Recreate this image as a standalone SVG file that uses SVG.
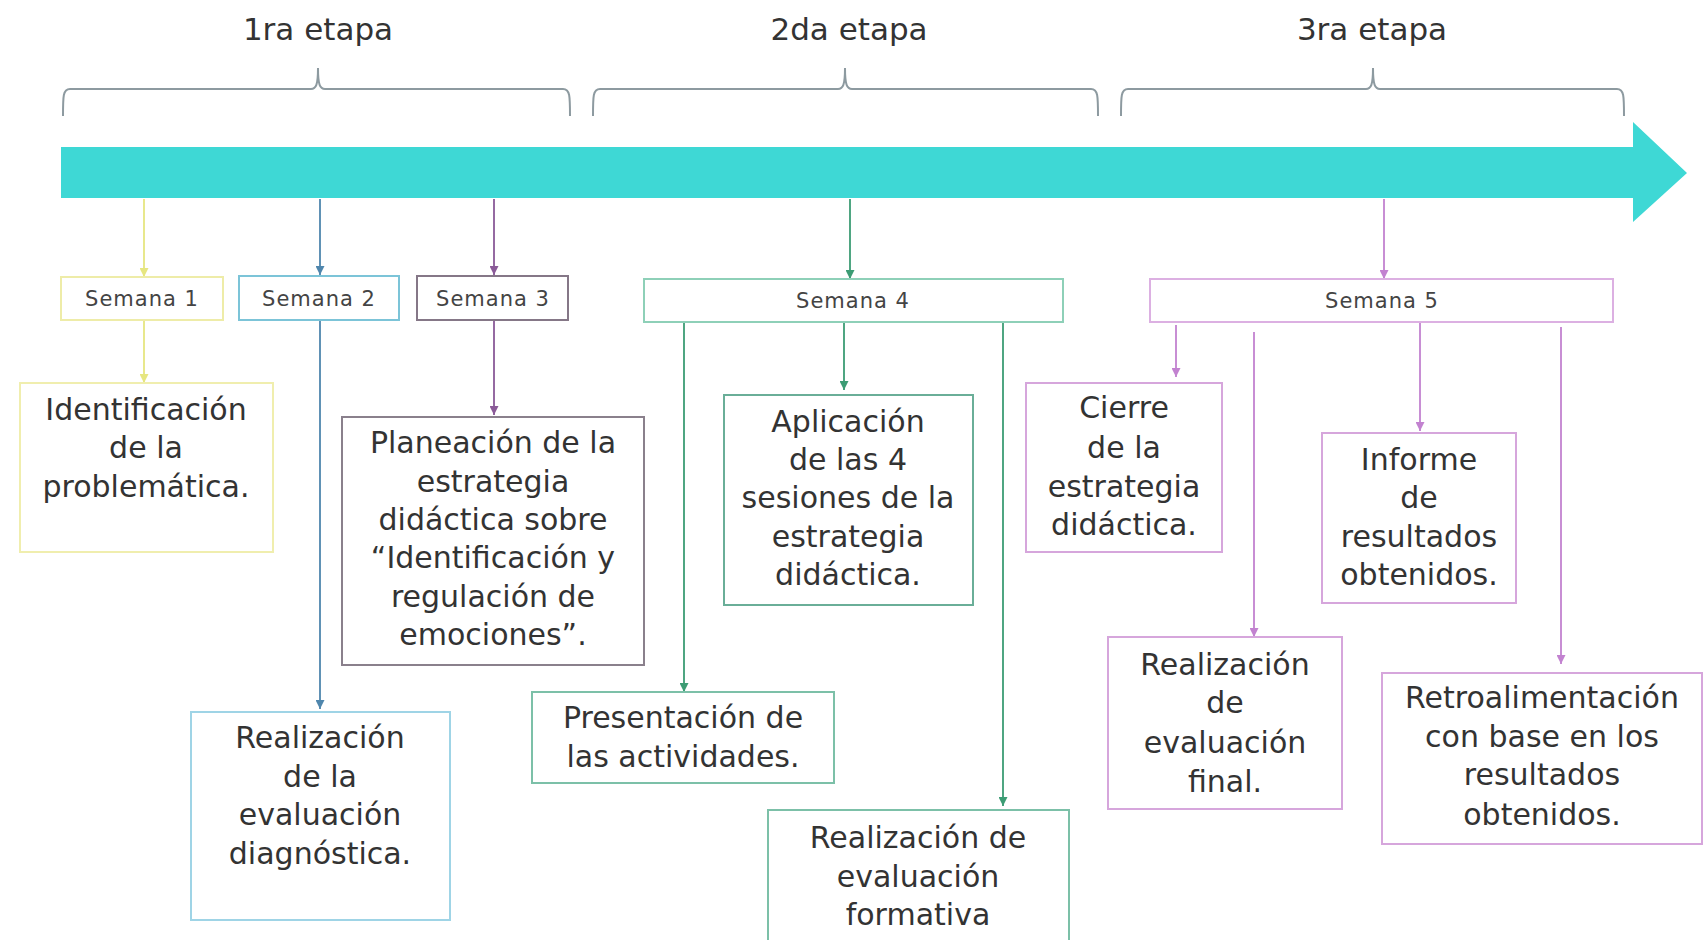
<svg xmlns="http://www.w3.org/2000/svg" width="1704" height="940" viewBox="0 0 1704 940">
<style>
text{font-family:"DejaVu Sans","Liberation Sans",sans-serif;fill:#333;text-anchor:middle}
.big{font-size:30px}
.sem{font-size:21px;letter-spacing:1px;fill:#444}
.eta{font-size:31px;fill:#333}
.br{fill:none;stroke:#8d9aa0;stroke-width:2}
.c{fill:none;stroke-width:1.8}
.box{fill:#fff;stroke-width:2}
</style>
<defs>
<marker id="mY" viewBox="0 0 10 10" refX="10" refY="5" markerWidth="9" markerHeight="9" markerUnits="userSpaceOnUse" orient="auto"><path d="M0,0 L10,5 L0,10 z" fill="#e6e680"/></marker>
<marker id="mB" viewBox="0 0 10 10" refX="10" refY="5" markerWidth="9" markerHeight="9" markerUnits="userSpaceOnUse" orient="auto"><path d="M0,0 L10,5 L0,10 z" fill="#4f86ad"/></marker>
<marker id="mP" viewBox="0 0 10 10" refX="10" refY="5" markerWidth="9" markerHeight="9" markerUnits="userSpaceOnUse" orient="auto"><path d="M0,0 L10,5 L0,10 z" fill="#8a5a98"/></marker>
<marker id="mG" viewBox="0 0 10 10" refX="10" refY="5" markerWidth="9" markerHeight="9" markerUnits="userSpaceOnUse" orient="auto"><path d="M0,0 L10,5 L0,10 z" fill="#3c9c74"/></marker>
<marker id="mK" viewBox="0 0 10 10" refX="10" refY="5" markerWidth="9" markerHeight="9" markerUnits="userSpaceOnUse" orient="auto"><path d="M0,0 L10,5 L0,10 z" fill="#c282d0"/></marker>
</defs>
<rect width="1704" height="940" fill="#fff"/>

<g id="timeline">
<path d="M61,147 H1633 V122 L1687,173 L1633,222 V198 H61 Z" fill="#3ed8d5"/>
</g>

<g id="stages">
<path class="br" d="M63,116 C63,96 63,89 70,89 H311 C316,89 318,85 318,68 C318,85 320,89 325,89 H563 C570,89 570,96 570,116"/>
<text class="eta" x="318" y="40">1ra etapa</text>
<path class="br" d="M593,116 C593,96 593,89 600,89 H838 C843,89 845,85 845,68 C845,85 847,89 852,89 H1091 C1098,89 1098,96 1098,116"/>
<text class="eta" x="849" y="40">2da etapa</text>
<path class="br" d="M1121,116 C1121,96 1121,89 1128,89 H1366 C1371,89 1373,85 1373,68 C1373,85 1375,89 1380,89 H1617 C1624,89 1624,96 1624,116"/>
<text class="eta" x="1372" y="40">3ra etapa</text>
</g>

<g id="connectors">
<line class="c" stroke="#e6e680" x1="144" y1="199" x2="144" y2="277" marker-end="url(#mY)"/>
<line class="c" stroke="#e6e680" x1="144" y1="320" x2="144" y2="383" marker-end="url(#mY)"/>
<line class="c" stroke="#4f86ad" x1="320" y1="199" x2="320" y2="275" marker-end="url(#mB)"/>
<line class="c" stroke="#4f86ad" x1="320" y1="320" x2="320" y2="709" marker-end="url(#mB)"/>
<line class="c" stroke="#8a5a98" x1="494" y1="199" x2="494" y2="275" marker-end="url(#mP)"/>
<line class="c" stroke="#8a5a98" x1="494" y1="320" x2="494" y2="415" marker-end="url(#mP)"/>
<line class="c" stroke="#3c9c74" x1="850" y1="199" x2="850" y2="279" marker-end="url(#mG)"/>
<line class="c" stroke="#3c9c74" x1="684" y1="322" x2="684" y2="692" marker-end="url(#mG)"/>
<line class="c" stroke="#3c9c74" x1="844" y1="322" x2="844" y2="390" marker-end="url(#mG)"/>
<line class="c" stroke="#3c9c74" x1="1003" y1="322" x2="1003" y2="806" marker-end="url(#mG)"/>
<line class="c" stroke="#c282d0" x1="1384" y1="199" x2="1384" y2="279" marker-end="url(#mK)"/>
<line class="c" stroke="#c282d0" x1="1176" y1="325" x2="1176" y2="377" marker-end="url(#mK)"/>
<line class="c" stroke="#c282d0" x1="1254" y1="332" x2="1254" y2="637" marker-end="url(#mK)"/>
<line class="c" stroke="#c282d0" x1="1420" y1="322" x2="1420" y2="431" marker-end="url(#mK)"/>
<line class="c" stroke="#c282d0" x1="1561" y1="327" x2="1561" y2="664" marker-end="url(#mK)"/>
</g>

<g id="semana1"><rect class="box" stroke="#eeeca8" x="61" y="277" width="162" height="43"/><text class="sem" x="142" y="306">Semana 1</text></g>
<g id="semana2"><rect class="box" stroke="#7cc4d8" x="239" y="276" width="160" height="44"/><text class="sem" x="319" y="306">Semana 2</text></g>
<g id="semana3"><rect class="box" stroke="#857787" x="417" y="276" width="151" height="44"/><text class="sem" x="493" y="306">Semana 3</text></g>
<g id="semana4"><rect class="box" stroke="#8ed0b8" x="644" y="279" width="419" height="43"/><text class="sem" x="853" y="308">Semana 4</text></g>
<g id="semana5"><rect class="box" stroke="#dcb0e2" x="1150" y="279" width="463" height="43"/><text class="sem" x="1382" y="308">Semana 5</text></g>

<g id="identificacion"><rect class="box" stroke="#f0eeae" x="20" y="383" width="253" height="169"/>
<text class="big" x="146"><tspan x="146" y="420">Identificación</tspan><tspan x="146" y="458">de la</tspan><tspan x="146" y="497">problemática.</tspan></text></g>

<g id="planeacion"><rect class="box" stroke="#8a808c" x="342" y="417" width="302" height="248"/>
<text class="big" x="493"><tspan x="493" y="453">Planeación de la</tspan><tspan x="493" y="492">estrategia</tspan><tspan x="493" y="530">didáctica sobre</tspan><tspan x="493" y="568">“Identificación y</tspan><tspan x="493" y="607">regulación de</tspan><tspan x="493" y="645">emociones”.</tspan></text></g>

<g id="diagnostica"><rect class="box" stroke="#9fd4e6" x="191" y="712" width="259" height="208"/>
<text class="big" x="320"><tspan x="320" y="748">Realización</tspan><tspan x="320" y="787">de la</tspan><tspan x="320" y="825">evaluación</tspan><tspan x="320" y="864">diagnóstica.</tspan></text></g>

<g id="aplicacion"><rect class="box" stroke="#6aae98" x="724" y="395" width="249" height="210"/>
<text class="big" x="848"><tspan x="848" y="432">Aplicación</tspan><tspan x="848" y="470">de las 4</tspan><tspan x="848" y="508">sesiones de la</tspan><tspan x="848" y="547">estrategia</tspan><tspan x="848" y="585">didáctica.</tspan></text></g>

<g id="presentacion"><rect class="box" stroke="#7cc0a8" x="532" y="692" width="302" height="91"/>
<text class="big" x="683"><tspan x="683" y="728">Presentación de</tspan><tspan x="683" y="767">las actividades.</tspan></text></g>

<g id="formativa"><rect class="box" stroke="#7cc0a8" x="768" y="810" width="301" height="150"/>
<text class="big" x="918"><tspan x="918" y="848">Realización de</tspan><tspan x="918" y="887">evaluación</tspan><tspan x="918" y="925">formativa</tspan></text></g>

<g id="cierre"><rect class="box" stroke="#d6a6dc" x="1026" y="383" width="196" height="169"/>
<text class="big" x="1124"><tspan x="1124" y="418">Cierre</tspan><tspan x="1124" y="458">de la</tspan><tspan x="1124" y="497">estrategia</tspan><tspan x="1124" y="535">didáctica.</tspan></text></g>

<g id="informe"><rect class="box" stroke="#d6a6dc" x="1322" y="433" width="194" height="170"/>
<text class="big" x="1419"><tspan x="1419" y="470">Informe</tspan><tspan x="1419" y="508">de</tspan><tspan x="1419" y="547">resultados</tspan><tspan x="1419" y="585">obtenidos.</tspan></text></g>

<g id="final"><rect class="box" stroke="#d6a6dc" x="1108" y="637" width="234" height="172"/>
<text class="big" x="1225"><tspan x="1225" y="675">Realización</tspan><tspan x="1225" y="713">de</tspan><tspan x="1225" y="753">evaluación</tspan><tspan x="1225" y="792">final.</tspan></text></g>

<g id="retroalimentacion"><rect class="box" stroke="#d6a6dc" x="1382" y="673" width="320" height="171"/>
<text class="big" x="1542"><tspan x="1542" y="708">Retroalimentación</tspan><tspan x="1542" y="747">con base en los</tspan><tspan x="1542" y="785">resultados</tspan><tspan x="1542" y="825">obtenidos.</tspan></text></g>
</svg>
